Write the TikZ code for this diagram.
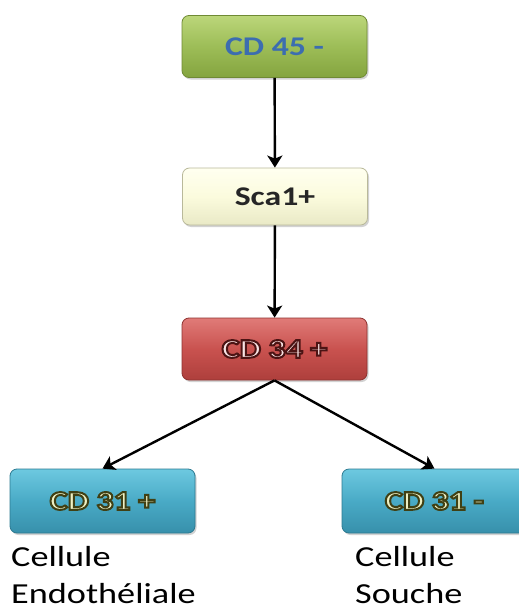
\documentclass[tikz,border=0pt]{standalone}
\usepackage{fontspec}
\setmainfont{Carlito}[FakeStretch=1.25]
\usetikzlibrary{arrows.meta,shadows}
\definecolor{grnT}{HTML}{BCD67A}
\definecolor{grnM}{HTML}{9DBD57}
\definecolor{grnB}{HTML}{84A43F}
\definecolor{grnD}{HTML}{6F8A34}
\definecolor{crmT}{HTML}{FFFFF0}
\definecolor{crmM}{HTML}{FBFBDD}
\definecolor{crmB}{HTML}{E9E9C6}
\definecolor{crmD}{HTML}{B9B99A}
\definecolor{redT}{HTML}{E07B78}
\definecolor{redM}{HTML}{C9524F}
\definecolor{redB}{HTML}{AE3F3C}
\definecolor{redD}{HTML}{8E3230}
\definecolor{bluT}{HTML}{6DC9E0}
\definecolor{bluM}{HTML}{49AAC6}
\definecolor{bluB}{HTML}{3790AB}
\definecolor{bluD}{HTML}{2D7A91}
\definecolor{txtBlue}{HTML}{3C6DB0}
\definecolor{txtPink}{HTML}{F8E4E4}
\definecolor{txtCream}{HTML}{EEF0C4}
\newcommand{\outlinedtext}[3]{{\color{#1}\special{pdf:code 2 Tr 2.0 w #2 RG}#3\special{pdf:code 0 Tr}}}
\tikzset{
  box/.style={rounded corners=7pt, minimum width=185pt, inner sep=0pt,
    font=\fontsize{27}{30}\selectfont\bfseries,
    drop shadow={opacity=0.35, shadow xshift=1.5pt, shadow yshift=-2pt}},
  greenbox/.style={box, minimum height=62pt, draw=grnD, line width=0.8pt,
    top color=grnT, bottom color=grnB, middle color=grnM},
  creambox/.style={box, minimum height=57pt, draw=crmD, line width=0.8pt,
    top color=crmT, bottom color=crmB, middle color=crmM},
  redbox/.style={box, minimum height=62pt, draw=redD, line width=0.8pt,
    top color=redT, bottom color=redB, middle color=redM},
  bluebox/.style={box, minimum height=64pt, draw=bluD, line width=0.8pt,
    top color=bluT, bottom color=bluB, middle color=bluM},
  conn/.style={line width=2.4pt, black, -{Stealth[length=12pt,width=15pt,inset=3pt]}},
  label/.style={font=\fontsize{29}{37}\selectfont, align=left, inner sep=0pt, anchor=north west}
}
\begin{document}
\begin{tikzpicture}[x=1pt,y=-1pt]
\useasboundingbox (0,0) rectangle (519,610);
\fill[white] (0,0) rectangle (519,610);
\node[greenbox] (cd45) at (274.5,46.5) {\textcolor{txtBlue}{CD 45 -}};
\node[creambox] (sca) at (275,196.5) {\textcolor{black!85}{Sca1+}};
\node[redbox] (cd34) at (274.5,349) {\outlinedtext{txtPink}{0.30 0.08 0.08}{CD 34 +}};
\node[bluebox] (cd31p) at (102.5,501) {\outlinedtext{txtCream}{0.25 0.25 0.08}{CD 31 +}};
\node[bluebox] (cd31m) at (434.5,501) {\outlinedtext{txtCream}{0.25 0.25 0.08}{CD 31 -}};
\draw[conn] (cd45) -- (sca);
\draw[conn] (sca) -- (cd34);
\draw[conn] (cd34.south) -- (cd31p.north);
\draw[conn] (cd34.south) -- (cd31m.north);
\node[label] (lab1) at (11,546) {Cellule\\Endothéliale};
\node[label] (lab2) at (355,546) {Cellule\\Souche};
\end{tikzpicture}
\end{document}
